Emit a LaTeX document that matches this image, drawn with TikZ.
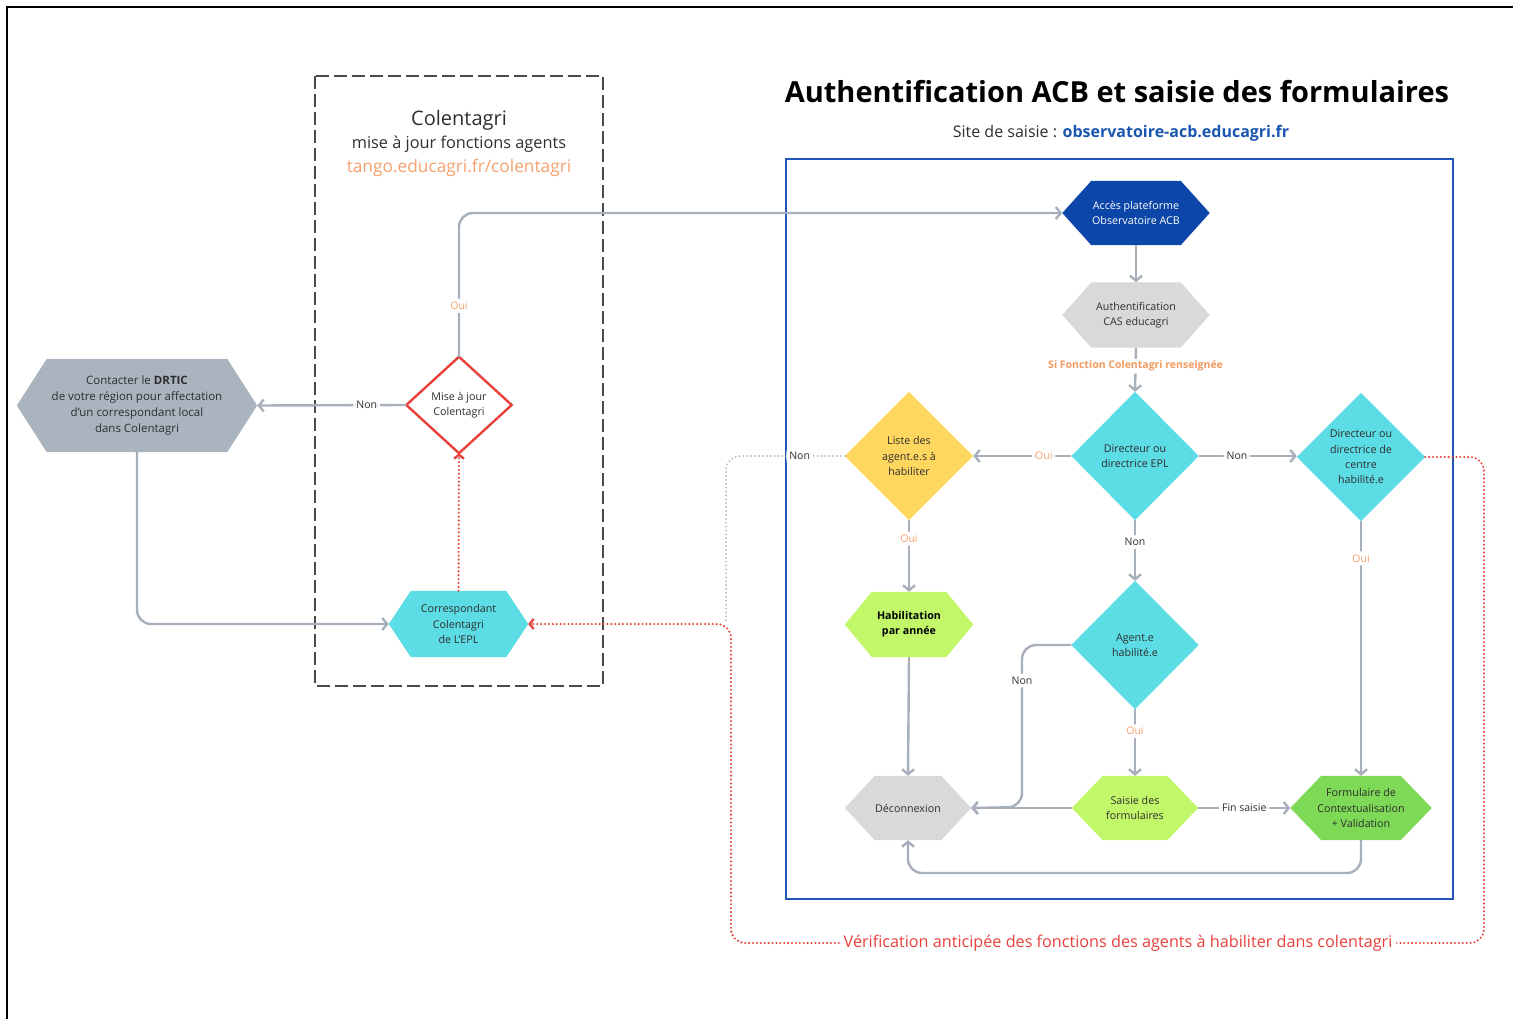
\documentclass[tikz,border=0pt]{standalone}
\usepackage{fontspec}
\setmainfont{Open Sans}
\usetikzlibrary{arrows.meta,backgrounds,calc}
\definecolor{txt}{HTML}{2E2E2E}
\definecolor{lnk}{HTML}{A7B0BA}
\definecolor{dotgray}{HTML}{B3B8BD}
\definecolor{orng}{HTML}{F5A06E}
\definecolor{orngb}{HTML}{F39A5E}
\definecolor{redc}{HTML}{E8413C}
\definecolor{navy}{HTML}{0B46A8}
\definecolor{bluebox}{HTML}{2257B5}
\definecolor{linkblue}{HTML}{1A56B0}
\definecolor{cyanc}{HTML}{5CDCE4}
\definecolor{yell}{HTML}{FFD75E}
\definecolor{lime}{HTML}{C2F76A}
\definecolor{grn}{HTML}{7ED957}
\definecolor{lgray}{HTML}{D9D9D9}
\definecolor{mgray}{HTML}{A9B4BE}
\definecolor{dashc}{HTML}{4A4A4A}
\newcommand\hexshape[3]{\fill[#1] (#2.west) -- ([xshift=#3]#2.north west) -- ([xshift=-#3]#2.north east) -- (#2.east) -- ([xshift=-#3]#2.south east) -- ([xshift=#3]#2.south west) -- cycle;}
\newcommand\diashape[2]{\path[#1] (#2.west) -- (#2.north) -- (#2.east) -- (#2.south) -- cycle;}
\tikzset{
  box/.style={inner sep=0pt, align=center, text=txt, font=\fontsize{10.7}{15.3}\selectfont},
  conn/.style={draw=lnk, line width=2.4pt, rounded corners=14pt, -{Straight Barb[length=5pt,width=12pt]}},
  reddot/.style={draw=redc, line width=2.3pt, line cap=round, dash pattern=on 0pt off 3.9pt, rounded corners=14pt},
  graydot/.style={draw=dotgray, line width=2pt, line cap=round, dash pattern=on 0pt off 3.9pt, rounded corners=14pt},
  lbl/.style={fill=white, inner sep=3pt, text=txt, font=\fontsize{10.5}{12}\selectfont},
  oui/.style={lbl, text=orng},
}
\begin{document}
\begin{tikzpicture}[x=1pt,y=-1pt]
\useasboundingbox (0,0) rectangle (1513,1019);
% outer frame
\draw[black, line width=2.2pt] (7,1019) -- (7,7) -- (1513,7);
% dashed Colentagri box
\draw[dashc, line width=2.6pt, dash pattern=on 13pt off 5pt] (315,76) rectangle (603,686);
% blue box
\draw[bluebox, line width=2.4pt] (786,159) rectangle (1453,899);

% titles
\node[font=\fontsize{20}{24}\selectfont, text=txt] (tcol) at (459,120) {Colentagri};
\node[font=\fontsize{16.3}{19}\selectfont, text=txt] (tmaj) at (459,144) {mise à jour fonctions agents};
\node[font=\fontsize{17.3}{20}\selectfont, text=orng] (ttan) at (459,168) {tango.educagri.fr/colentagri};
\node[font=\bfseries\fontsize{29}{34}\selectfont, text=black] (title) at (1117,92) {Authentification ACB et saisie des formulaires};
\node[font=\fontsize{16}{19}\selectfont, text=txt] (site) at (1121,133) {Site de saisie : \textcolor{linkblue}{\bfseries observatoire-acb.educagri.fr}};

% nodes
\node[box, text=white, minimum width=147pt, minimum height=64pt] (acces) at (1136,213) {Accès plateforme\\Observatoire ACB};
\node[box, minimum width=147pt, minimum height=65pt] (auth) at (1136,315) {Authentification\\CAS educagri};
\node[box, minimum width=127pt, minimum height=128pt] (epl) at (1135,456) {Directeur ou\\directrice EPL};
\node[box, minimum width=128pt, minimum height=128pt] (liste) at (909,456) {Liste des\\agent.e.s à\\habiliter};
\node[box, minimum width=128pt, minimum height=128pt] (centre) at (1361,457) {Directeur ou\\directrice de\\centre\\habilité.e};
\node[box, minimum width=127pt, minimum height=128pt] (agent) at (1135,645) {Agent.e\\habilité.e};
\node[box, text=black, font=\bfseries\fontsize{10.7}{15.3}\selectfont, minimum width=128pt, minimum height=65pt] (habil) at (909,624.5) {Habilitation\\par année};
\node[box, minimum width=126pt, minimum height=64pt] (deco) at (908,808) {Déconnexion};
\node[box, minimum width=126pt, minimum height=64pt] (saisie) at (1135,808) {Saisie des\\formulaires};
\node[box, minimum width=141pt, minimum height=64pt] (form) at (1361,808) {Formulaire de\\Contextualisation\\+ Validation};
\node[box, font=\fontsize{11.5}{16}\selectfont, minimum width=240pt, minimum height=93pt] (contact) at (137,405.5) {Contacter le \textbf{DRTIC}\\de votre région pour affectation\\d’un correspondant local\\dans Colentagri};
\node[box, minimum width=105pt, minimum height=96pt] (majour) at (459,405) {Mise à jour\\Colentagri};
\node[box, minimum width=139pt, minimum height=66pt] (corresp) at (458.5,624) {Correspondant\\Colentagri\\de L’EPL};

\begin{scope}[on background layer]
\hexshape{navy}{acces}{29pt}
\hexshape{lgray}{auth}{29pt}
\hexshape{lime}{habil}{27pt}
\hexshape{lgray}{deco}{30pt}
\hexshape{lime}{saisie}{31pt}
\hexshape{grn}{form}{31pt}
\hexshape{mgray}{contact}{30pt}
\hexshape{cyanc}{corresp}{22pt}
\diashape{fill=cyanc}{epl}
\diashape{fill=yell}{liste}
\diashape{fill=cyanc}{centre}
\diashape{fill=cyanc}{agent}
\diashape{fill=white, draw=redc, line width=2.4pt}{majour}
\end{scope}

% coordinates
\coordinate (j1) at (1022,807);
\coordinate (bot) at (1135,873);
\coordinate (g1) at (726,456);
\coordinate (g2) at (726,621);
\coordinate (r1) at (1484,457);
\coordinate (r2) at (1484,943);
\coordinate (r3) at (731,943);
\coordinate (r4) at (731,624);

% connectors
\draw[conn] (majour.north) |- (acces.west) node[oui, pos=0.177] {Oui};
\draw[conn] (majour.west) -- node[lbl, pos=0.265] {Non} (contact.east);
\draw[conn] (contact.south) |- (corresp.west);
\draw[reddot, -{Straight Barb[length=4pt,width=10pt]}] (corresp.north) -- (majour.south);
\draw[conn] (acces.south) -- (auth.north);
\draw[conn] (auth.south) -- node[fill=white, inner sep=2pt, text=orngb, font=\bfseries\fontsize{10.5}{12}\selectfont, pos=0.42] {Si Fonction Colentagri renseignée} (epl.north);
\draw[conn] (epl.west) -- node[oui, pos=0.28] {Oui} (liste.east);
\draw[conn] (epl.east) -- node[lbl, pos=0.39] {Non} (epl.east -| centre.west);
\draw[conn] (epl.south) -- node[lbl, pos=0.36] {Non} (agent.north);
\draw[conn] (liste.south) -- node[oui, pos=0.26] {Oui} (habil.north);
\draw[conn] (habil.south) -- (deco.north);
\draw[conn] (agent.west) -| node[lbl, pos=0.61] {Non} (j1) -- (deco.east);
\draw[conn] (agent.south) -- node[oui, pos=0.33] {Oui} (saisie.north);
\draw[conn] (saisie.west) -- (deco.east);
\draw[conn] (saisie.east) -- node[lbl, pos=0.5] {Fin saisie} (form.west);
\draw[conn] (centre.south) -- node[oui, pos=0.146] {Oui} (form.north);
\draw[conn] (form.south) |- (bot) -| (deco.south);

% dotted verification loops
\draw[graydot] (liste.west) -- node[lbl, pos=0.38] {Non} (g1) -- (g2);
\draw[reddot, -{Straight Barb[length=4pt,width=10pt]}] (centre.east) -- (r1) -- (r2) -- node[fill=white, inner sep=4pt, text=redc, font=\fontsize{16.2}{19}\selectfont, pos=0.486] {Vérification anticipée des fonctions des agents à habiliter dans colentagri} (r3) -- (r4) -- (corresp.east);
\end{tikzpicture}
\end{document}
